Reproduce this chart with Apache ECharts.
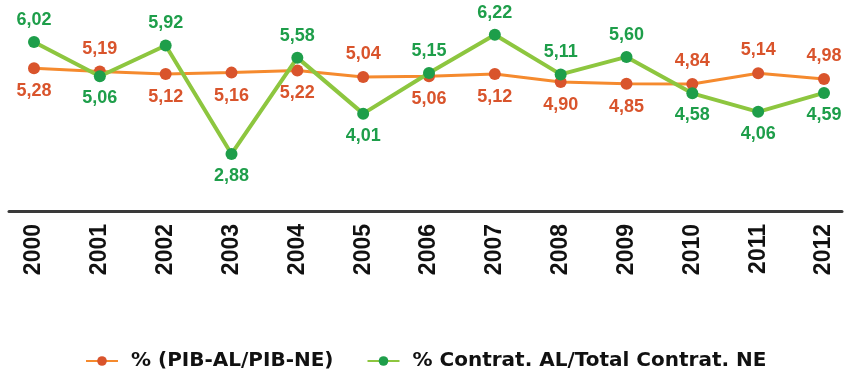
<!DOCTYPE html>
<html>
<head>
<meta charset="utf-8">
<script src="https://cdn.jsdelivr.net/npm/echarts@6/dist/echarts.min.js"></script>
<style>
html,body{margin:0;padding:0;background:#fff;}
#chart{width:845px;height:370px;}
</style>
</head>
<body>
<div id="chart"></div>
<script>
const years = ['2000','2001','2002','2003','2004','2005','2006','2007','2008','2009','2010','2011','2012'];
const pibShare = [5.28, 5.19, 5.12, 5.16, 5.22, 5.04, 5.06, 5.12, 4.90, 4.85, 4.84, 5.14, 4.98];
const contratShare = [6.02, 5.06, 5.92, 2.88, 5.58, 4.01, 5.15, 6.22, 5.11, 5.60, 4.58, 4.06, 4.59];
const seriesNames = ['% (PIB-AL/PIB-NE)', '% Contrat. AL/Total Contrat. NE'];

// label placement (style only)
const pibLabelPos = ['bottom','top','bottom','bottom','bottom','top','bottom','bottom','bottom','bottom','top','top','top'];
const contratLabelPos = ['top','bottom','top','bottom','top','bottom','top','top','top','top','bottom','bottom','bottom'];

const fmt = v => v.toFixed(2).replace('.', ',');
const chart = echarts.init(document.getElementById('chart'));

function items(vals, pos) {
  return vals.map((v, i) => ({ value: v, label: { position: pos[i] } }));
}

chart.setOption({
  animation: false,
  backgroundColor: '#fff',
  grid: [
    { left: 34, right: 21, top: 7, bottom: 159 },
    { left: 9, right: 3, top: 211, bottom: 159 }
  ],
  xAxis: [
    {
      type: 'category', gridIndex: 0, data: years, boundaryGap: false,
      axisLine: { show: false }, axisTick: { show: false },
      axisLabel: { rotate: 90, margin: 13, color: '#111', fontWeight: 'bold',
        fontSize: 23, fontFamily: 'Liberation Sans, Arial, sans-serif' }
    },
    {
      type: 'value', gridIndex: 1, min: 0, max: 1,
      axisLine: { show: true, lineStyle: { color: '#3a3a3a', width: 3 } },
      axisTick: { show: false }, axisLabel: { show: false }, splitLine: { show: false }
    }
  ],
  yAxis: [
    { type: 'value', gridIndex: 0, min: 1.28, max: 7, show: false, splitLine: { show: false } },
    { type: 'value', gridIndex: 1, show: false, splitLine: { show: false } }
  ],
  legend: {
    top: 346, left: 80, itemWidth: 32, itemHeight: 12, itemGap: 33,
    textStyle: { color: '#111', fontWeight: 'bold', fontSize: 20,
      fontFamily: 'DejaVu Sans, sans-serif', padding: [0, 0, 0, 8] },
    data: seriesNames
  },
  series: [
    {
      name: seriesNames[0], type: 'line', data: items(pibShare, pibLabelPos),
      symbol: 'circle', symbolSize: 12, z: 2,
      lineStyle: { color: '#F58A2E', width: 3 },
      itemStyle: { color: '#D9542C' },
      label: { show: true, formatter: p => fmt(p.value), color: '#D9542C', fontWeight: 'bold',
        fontSize: 18, distance: 8, fontFamily: 'Liberation Sans, Arial, sans-serif' }
    },
    {
      name: seriesNames[1], type: 'line', data: items(contratShare, contratLabelPos),
      symbol: 'circle', symbolSize: 12, z: 3,
      lineStyle: { color: '#8DC63F', width: 4 },
      itemStyle: { color: '#1E9E4A' },
      label: { show: true, formatter: p => fmt(p.value), color: '#1E9E4A', fontWeight: 'bold',
        fontSize: 18, distance: 7, fontFamily: 'Liberation Sans, Arial, sans-serif' }
    }
  ]
});
</script>
</body>
</html>
